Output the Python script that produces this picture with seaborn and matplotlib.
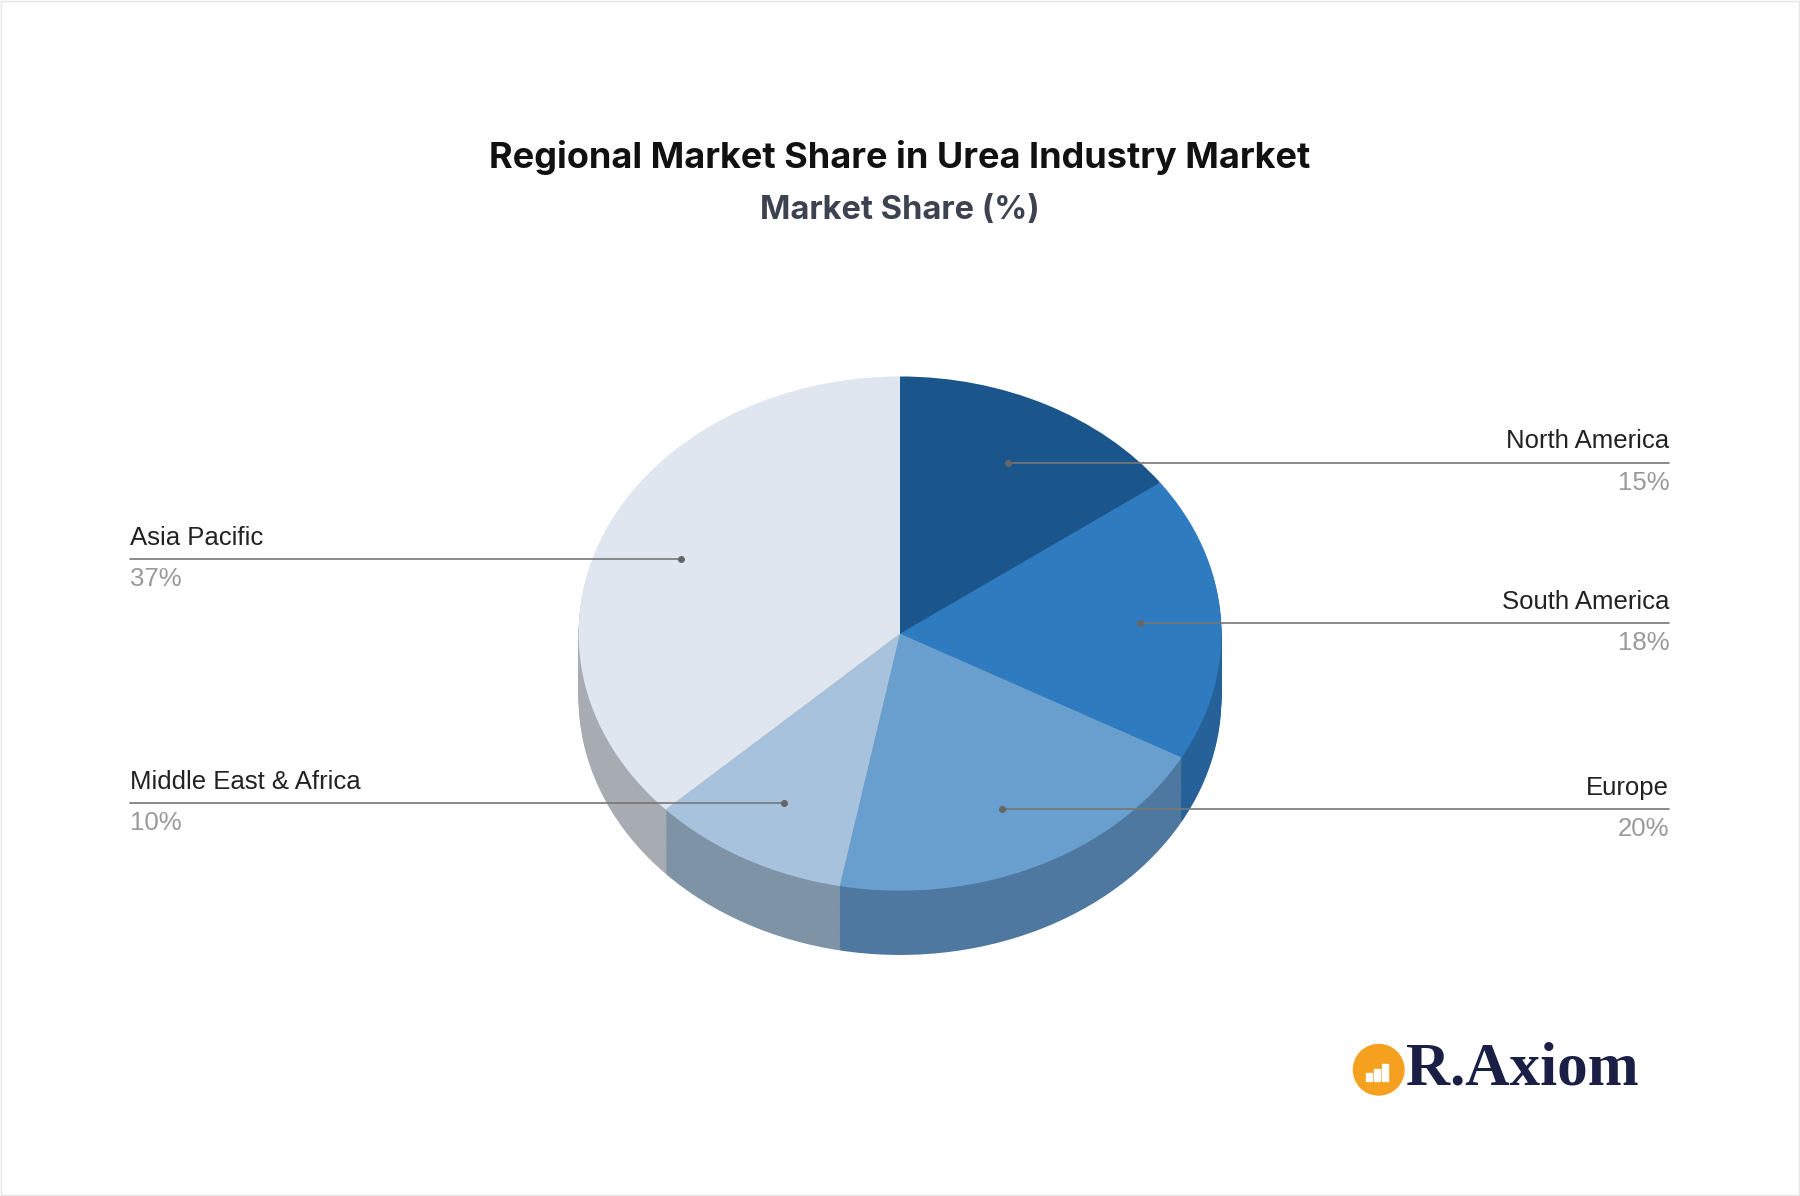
import numpy as np
import matplotlib.pyplot as plt
import seaborn as sns
from matplotlib.patches import Circle, Rectangle

sns.set_style("white")
plt.rcParams['font.family'] = ['Liberation Sans', 'DejaVu Sans']

regions = ['North America', 'South America', 'Europe', 'Middle East & Africa', 'Asia Pacific']
shares = [15, 18, 20, 10, 37]
top_colors = ['#1a568c', '#2e7bbf', '#689fcf', '#a6c2dc', '#dfe6ef']
side_colors = ['#1d4a77', '#27619a', '#4e78a0', '#7f93a6', '#a7acb2']
# label anchor (dot) and side, in reference pixel coords (1568 x 1042)
anchors = [(878, 403, 'r'), (993, 543, 'r'), (873, 705, 'r'), (683, 700, 'l'), (593, 487, 'l')]

W, H = 1568, 1042
fig = plt.figure(figsize=(18, 11.96), dpi=100)

# pie axes: center (784, 552), rx 280, ry 224
cx, cy, rx, ry = 784, 552, 280, 224
xr, ylo, yhi = 1.5, -1.8, 1.2
pax = fig.add_axes([(cx - xr * rx) / W, 1 - (cy - ylo * ry) / H,
                    2 * xr * rx / W, (yhi - ylo) * ry / H])
depth = 0.25
for d in np.linspace(depth, 0.005, 40):
    pax.pie(shares, colors=side_colors, startangle=90, counterclock=False,
            center=(0, -d), radius=1, wedgeprops=dict(linewidth=0))
pax.pie(shares, colors=top_colors, startangle=90, counterclock=False,
        radius=1, wedgeprops=dict(linewidth=0))
pax.set_aspect('auto')
pax.set_xlim(-xr, xr)
pax.set_ylim(ylo, yhi)
pax.axis('off')

# overlay axes for text in pixel coords
ax = fig.add_axes([0, 0, 1, 1], facecolor='none')
ax.set_xlim(0, W)
ax.set_ylim(H, 0)
ax.axis('off')
ax.add_patch(Rectangle((1, 1), W - 2, H - 2, fill=False, ec='#e6e6e6', lw=1))

ax.text(784, 137, 'Regional Market Share in Urea Industry Market', ha='center', va='center',
        fontsize=26, fontweight='bold', color='#111111', family=['Inter', 'DejaVu Sans'])
ax.text(784, 183, 'Market Share (%)', ha='center', va='center',
        fontsize=23.5, fontweight='bold', color='#3c4250', family=['Inter', 'DejaVu Sans'])

for name, val, (x, y, side) in zip(regions, shares, anchors):
    xe = 1454 if side == 'r' else 113
    ha = 'right' if side == 'r' else 'left'
    ax.plot([x, xe], [y, y], color='#777777', lw=1.2)
    ax.plot(x, y, 'o', color='#666666', ms=4)
    ax.text(xe, y - 8, name, ha=ha, va='bottom', fontsize=18.5, color='#222222')
    ax.text(xe, y + 7, f'{val}%', ha=ha, va='top', fontsize=18.5, color='#999999')

# logo
ax.add_patch(Circle((1201, 932), 22, color='#f5a01e'))
for i, hgt in enumerate([7, 11, 15]):
    ax.add_patch(Rectangle((1190 + i * 7, 942 - hgt), 5, hgt, color='white'))
ax.text(1225, 932, 'R.Axiom', ha='left', va='center', fontsize=44, fontweight='bold',
        color='#1b1f45', family=['Liberation Serif', 'DejaVu Serif'])

fig.savefig('out.png', dpi=100)
